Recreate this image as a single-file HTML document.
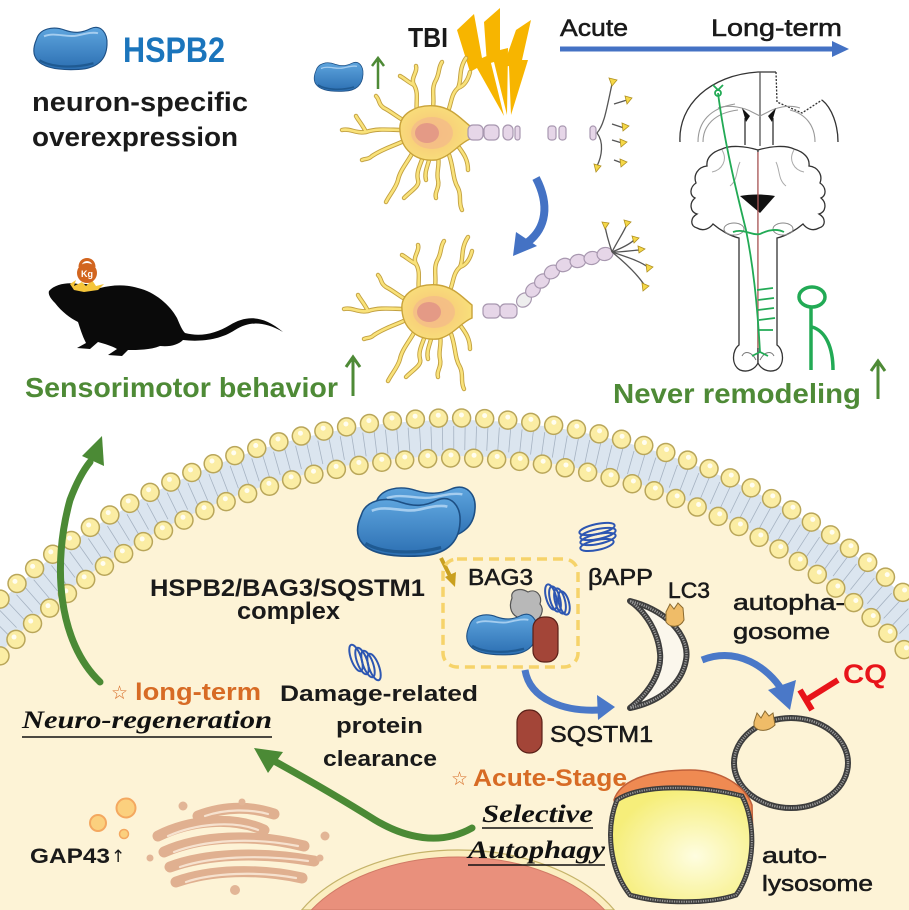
<!DOCTYPE html>
<html><head><meta charset="utf-8"><style>
html,body{margin:0;padding:0;background:#fff;width:909px;height:910px;overflow:hidden;}
svg{display:block;}
.t{font-family:"Liberation Sans",sans-serif;}
.b{font-weight:bold;}
.m{font-weight:normal;stroke-width:0.55;}
.it{font-family:"Liberation Serif",serif;font-weight:bold;font-style:italic;}
.st{font-family:"DejaVu Sans",sans-serif;}
</style></head><body>
<svg width="909" height="910" viewBox="0 0 909 910" xmlns="http://www.w3.org/2000/svg">
<defs>
<linearGradient id="gblue" x1="0" y1="0" x2="0" y2="1"><stop offset="0" stop-color="#5ea5de"/><stop offset="1" stop-color="#2c6fb2"/></linearGradient>
<radialGradient id="gyel" cx="0.6" cy="0.6" r="0.6"><stop offset="0" stop-color="#fefde0"/><stop offset="1" stop-color="#f6ee7a"/></radialGradient>
<radialGradient id="gsoma" cx="0.45" cy="0.5" r="0.6"><stop offset="0" stop-color="#f6c27a"/><stop offset="1" stop-color="#f9e27a"/></radialGradient>
<g id="prot">
<path d="M6,20 C10,6 28,2 44,8 C56,12 66,12 78,6 C92,0 101,12 100,27 C99,47 86,58 62,59 C40,60 16,58 7,47 C0,39 2,29 6,20 Z" fill="url(#gblue)" stroke="#1d4f84" stroke-width="1.5"/>
<path d="M16,16 C30,10 46,18 60,15 C70,13 80,10 88,12" stroke="#a5cdef" stroke-width="2.5" fill="none"/>
<path d="M10,47 C25,56 55,58 82,51" stroke="#1f5a92" stroke-width="3" fill="none"/>
</g>
<g id="dends">
<path d="M418,118 C414,105 420,95 414,85 C410,78 418,72 416,66"/>
<path d="M414,85 C408,82 404,78 400,76"/>
<path d="M432,112 C436,100 430,90 436,80 C440,72 438,68 442,62"/>
<path d="M446,116 C452,105 450,95 458,88 C462,80 458,70 466,58"/>
<path d="M458,88 C464,86 468,80 470,72"/>
<path d="M410,124 C398,118 392,112 384,108 C378,104 380,100 376,96"/>
<path d="M404,130 C390,130 378,128 366,132 C356,134 350,128 342,130"/>
<path d="M366,132 C362,124 358,120 356,116"/>
<path d="M406,140 C394,146 384,148 372,156 C368,160 366,158 362,160"/>
<path d="M414,150 C408,162 400,170 398,180 C396,188 390,194 386,202"/>
<path d="M424,154 C420,166 416,172 418,180 C420,186 412,190 404,198"/>
<path d="M430,156 C428,166 424,172 426,180"/>
<path d="M438,156 C440,166 436,172 438,180 C440,188 434,192 436,198"/>
<path d="M448,152 C454,166 452,178 458,188 C462,196 458,202 462,210"/>
<path d="M458,146 C464,154 468,160 468,170"/>
</g>
<g id="neuron">
<use href="#dends" stroke="#c2a040" stroke-width="4.4" fill="none" stroke-linecap="round"/>
<use href="#dends" stroke="#f9e27a" stroke-width="2.6" fill="none" stroke-linecap="round"/>
<path d="M400,131 C398,114 416,104 436,106 C452,108 460,118 470,126 L470,139 C458,144 452,156 436,160 C414,162 401,148 400,131 Z" fill="url(#gsoma)" stroke="#c9a33a" stroke-width="1.4"/>
<ellipse cx="432" cy="133" rx="21" ry="16" fill="#f3b98a" opacity="0.7"/>
<ellipse cx="427" cy="133" rx="12" ry="10" fill="#e49a86"/>
</g>
</defs>

<rect width="909" height="910" fill="#fff"/>

<!-- cell -->
<path d="M0,650.1 A626,626 0 0 1 909,649 L909,910 L0,910 Z" fill="#fdf3d6"/>
<path d="M0,601.9 A660,660 0 0 1 909,601 L909,651.9 A624,624 0 0 0 0,653 Z" fill="#dbe5ef"/>
<path d="M0,627.1 A642,642 0 0 1 909,626.1" fill="none" stroke="#a6b3c2" stroke-width="24" stroke-dasharray="0.8 10.4"/>
<path d="M0,599.1 A662,662 0 0 1 909,598.2" fill="none" stroke="#b9a65a" stroke-width="19.5" stroke-linecap="round" stroke-dasharray="0 23.1"/>
<path d="M0,599.1 A662,662 0 0 1 909,598.2" fill="none" stroke="#fbeda4" stroke-width="16.5" stroke-linecap="round" stroke-dasharray="0 23.1"/>
<path d="M0,595 A665,665 0 0 1 909,594.1" fill="none" stroke="#fffdf0" stroke-width="5" stroke-linecap="round" stroke-dasharray="0 23.2" stroke-dashoffset="2.9"/>
<path d="M0,655.9 A622,622 0 0 1 909,654.8" fill="none" stroke="#b9a65a" stroke-width="19.5" stroke-linecap="round" stroke-dasharray="0 23"/>
<path d="M0,655.9 A622,622 0 0 1 909,654.8" fill="none" stroke="#fbeda4" stroke-width="16.5" stroke-linecap="round" stroke-dasharray="0 23"/>
<path d="M0,651.5 A625,625 0 0 1 909,650.5" fill="none" stroke="#fffdf0" stroke-width="5" stroke-linecap="round" stroke-dasharray="0 23.11" stroke-dashoffset="2.9"/>

<!-- nucleus -->
<path d="M301.7,910 A178,115 0 0 1 614.3,910 Z" fill="#fbeec0" stroke="#c5b36a" stroke-width="1.2"/>
<path d="M311.3,910 A172,111 0 0 1 604.7,910 Z" fill="#e9907c" stroke="#d07a66"/>

<!-- golgi -->
<g fill="none" stroke-linecap="round">
<g stroke="#e0b090" stroke-width="11">
<path d="M198,816 C225,806 250,806 274,814"/>
<path d="M158,836 C190,820 232,816 264,830"/>
<path d="M164,852 C200,836 252,833 304,846"/>
<path d="M170,867 C205,854 257,851 314,861"/>
<path d="M176,882 C210,870 257,868 302,878"/>
</g>
<g stroke="#f6e2cf" stroke-width="2.2">
<path d="M205,816 C225,809 250,809 268,814"/>
<path d="M168,836 C195,824 232,820 258,830"/>
<path d="M174,852 C205,840 252,837 298,846"/>
<path d="M180,867 C210,857 257,854 308,861"/>
<path d="M186,882 C212,873 257,871 296,878"/>
</g>
</g>
<g fill="#e2b596"><circle cx="183" cy="806" r="4.5"/><circle cx="325" cy="836" r="4.5"/><circle cx="235" cy="890" r="5"/><circle cx="320" cy="858" r="3.5"/><circle cx="150" cy="858" r="3.5"/><circle cx="242" cy="802" r="3.5"/></g>
<circle cx="98" cy="823" r="8" fill="#fbd07e" stroke="#f4a860" stroke-width="2"/>
<circle cx="126" cy="808" r="9.5" fill="#fbd07e" stroke="#f4a860" stroke-width="2"/>
<circle cx="124" cy="834" r="4.5" fill="#fbd07e" stroke="#f4a860" stroke-width="1.5"/>

<!-- green arrows -->
<g stroke="#4b8a35" stroke-width="7" fill="none" stroke-linecap="round">
<path d="M100,682 C58,642 52,565 70,500 C76,484 82,472 90,462"/>
<path d="M472,828 C440,846 405,838 375,820 C340,798 305,778 276,762"/>
</g>
<polygon points="102,436 104,466 82,456" fill="#4b8a35"/>
<polygon points="254,748 283,752 268,773" fill="#4b8a35"/>

<!-- big complex -->
<use href="#prot" transform="translate(370,483) scale(1.05,0.95)"/>
<use href="#prot" transform="translate(355,494) scale(1.05,1.05)"/>
<path d="M441,558 L451,578" stroke="#c9a020" stroke-width="4"/>
<polygon points="455,587 445,577 456,572" fill="#c9a020"/>
<rect x="443" y="559" width="135" height="108" rx="14" fill="none" stroke="#f6d36a" stroke-width="3.5" stroke-dasharray="10 6"/>
<path d="M512,598 C510,590 520,587 528,592 C536,588 543,596 540,604 C545,610 541,620 532,622 L520,618 C512,616 508,608 512,598 Z" fill="#b8b8b8" stroke="#555" stroke-width="1.2"/>
<use href="#prot" transform="translate(465,611) scale(0.72,0.74)"/>
<rect x="533" y="617" width="25" height="45" rx="11" fill="#a34538" stroke="#5a2018" stroke-width="1.2"/>
<g fill="none" stroke="#2d56b2" stroke-width="2">
<ellipse cx="551" cy="597" rx="5" ry="13" transform="rotate(-15 551 597)"/>
<ellipse cx="555" cy="599" rx="5" ry="13" transform="rotate(-15 555 599)"/>
<ellipse cx="560" cy="601" rx="5" ry="13" transform="rotate(-15 560 601)"/>
<ellipse cx="564" cy="603" rx="5" ry="12" transform="rotate(-15 564 603)"/>
<ellipse cx="597" cy="529" rx="18" ry="5" transform="rotate(-12 597 529)"/>
<ellipse cx="598" cy="534" rx="18" ry="5" transform="rotate(-12 598 534)"/>
<ellipse cx="598" cy="539" rx="18" ry="5" transform="rotate(-12 598 539)"/>
<ellipse cx="597" cy="545" rx="17" ry="5" transform="rotate(-12 597 545)"/>
<ellipse cx="356" cy="658" rx="5" ry="14" transform="rotate(-20 356 658)"/>
<ellipse cx="362" cy="661" rx="5" ry="14" transform="rotate(-20 362 661)"/>
<ellipse cx="368" cy="664" rx="5" ry="14" transform="rotate(-20 368 664)"/>
<ellipse cx="374" cy="667" rx="5" ry="14" transform="rotate(-20 374 667)"/>
</g>

<!-- blue arrows lower -->
<path d="M525,670 C530,700 565,712 600,710" stroke="#4a78c8" stroke-width="7" fill="none"/>
<polygon points="615,707 597,695 598,720" fill="#4a78c8"/>
<path d="M702,660 C738,646 768,668 782,690" stroke="#4a78c8" stroke-width="7" fill="none"/>
<polygon points="790,710 768,690 796,680" fill="#4a78c8"/>
<rect x="517" y="710" width="25" height="43" rx="12" fill="#a34538" stroke="#5a2018" stroke-width="1.2"/>

<!-- phagophore -->
<path d="M630,601 C672,612 690,640 686,660 C682,684 660,702 630,708 C650,692 662,672 660,653 C658,632 646,612 630,601 Z" fill="#fbf7ec" stroke="#3d3d3d" stroke-width="6" stroke-linejoin="round"/>
<path d="M630,601 C672,612 690,640 686,660 C682,684 660,702 630,708 C650,692 662,672 660,653 C658,632 646,612 630,601 Z" fill="none" stroke="#9a9a9a" stroke-width="2.5" stroke-dasharray="1.2 1.2"/>
<path d="M666,612 L670,604 L674,609 L678,603 L683,608 L684,620 C680,628 670,628 666,622 Z" fill="#efbc68" stroke="#8a6a30"/>

<!-- autophagosome -->
<ellipse cx="791" cy="763" rx="57" ry="45" fill="none" stroke="#3d3d3d" stroke-width="6"/>
<ellipse cx="791" cy="763" rx="57" ry="45" fill="none" stroke="#9a9a9a" stroke-width="2.5" stroke-dasharray="1.2 1.2"/>
<path d="M754,722 L757,713 L761,718 L765,711 L769,716 L773,713 L775,725 C768,732 758,732 754,726 Z" fill="#efbc68" stroke="#8a6a30"/>
<!-- CQ inhibit -->
<path d="M838,680 L806,700" stroke="#e8141a" stroke-width="6"/>
<path d="M800,690 L812,710" stroke="#e8141a" stroke-width="6"/>

<!-- autolysosome -->
<path d="M614,800 C620,780 650,770 690,770 C720,770 745,785 752,805 L753,842 C740,830 620,830 614,800 Z" fill="#ef8a52" stroke="#c0603a" stroke-width="1.5"/>
<path d="M617,800 C640,784 700,785 742,796 C756,822 756,868 736,895 C710,904 660,904 630,895 C610,870 605,830 617,800 Z" fill="url(#gyel)" stroke="#3d3d3d" stroke-width="5"/>
<path d="M617,800 C640,784 700,785 742,796 C756,822 756,868 736,895 C710,904 660,904 630,895 C610,870 605,830 617,800 Z" fill="none" stroke="#999" stroke-width="2" stroke-dasharray="1.2 1.2"/>

<!-- TOP SECTION -->
<use href="#prot" transform="translate(32,24) scale(0.75,0.77)"/>
<use href="#prot" transform="translate(313,60) scale(0.5,0.53)"/>
<path d="M378,89 L378,59 M372,66 L378,58 L384,66" stroke="#4e8a36" stroke-width="2.5" fill="none"/>

<!-- lightning -->
<g fill="#f7b500">
<polygon points="457,30 474,14 482,58 489,55 504,116 477,68 470,72"/>
<polygon points="484,22 500,8 500,50 508,48 507,115 494,62 487,64"/>
<polygon points="516,30 531,20 522,60 528,60 511,115 509,66 503,67"/>
</g>

<!-- neurons -->
<use href="#neuron"/>
<use href="#neuron" transform="translate(2,179)"/>
<g fill="#e6d6e8" stroke="#a898b0" stroke-width="1.2">
<rect x="468" y="125" width="15" height="15" rx="5"/>
<rect x="484" y="125" width="15" height="15" rx="5"/>
<rect x="503" y="125" width="10" height="15" rx="5"/>
<rect x="515" y="126" width="5" height="14" rx="2.5"/>
<rect x="548" y="126" width="8" height="14" rx="3"/>
<rect x="559" y="126" width="7" height="14" rx="3"/>
<rect x="590" y="126" width="6" height="14" rx="3"/>
<rect x="483" y="304" width="17" height="14" rx="5"/>
<rect x="500" y="304" width="17" height="14" rx="5"/>
<ellipse cx="524" cy="300" rx="8" ry="6.5" transform="rotate(-40 524 300)" fill="#eeeeee"/>
<ellipse cx="533" cy="290" rx="8" ry="6.5" transform="rotate(-42 533 290)"/>
<ellipse cx="542" cy="281" rx="8" ry="6.5" transform="rotate(-40 542 281)"/>
<ellipse cx="552" cy="272" rx="8" ry="6.5" transform="rotate(-32 552 272)"/>
<ellipse cx="564" cy="265" rx="8" ry="6.5" transform="rotate(-20 564 265)"/>
<ellipse cx="578" cy="261" rx="8" ry="6.5" transform="rotate(-12 578 261)"/>
<ellipse cx="592" cy="258" rx="8" ry="6.5" transform="rotate(-10 592 258)"/>
<ellipse cx="605" cy="254" rx="8" ry="6.5" transform="rotate(-10 605 254)"/>
</g>
<g stroke="#555" stroke-width="1.3" fill="none">
<path d="M597,133 C604,125 606,112 612,84"/>
<path d="M597,133 C604,142 602,156 597,166"/>
<path d="M614,104 L627,100"/><path d="M612,124 L624,128"/><path d="M612,140 L622,143"/><path d="M614,160 L622,163"/>
<path d="M612,252 C608,240 606,232 605,226"/>
<path d="M612,252 C618,240 624,232 627,224"/>
<path d="M612,252 C622,248 630,244 634,240"/>
<path d="M612,252 C625,252 634,250 640,250"/>
<path d="M612,252 C630,258 642,262 649,268"/>
<path d="M612,252 C628,265 638,275 645,286"/>
</g>
<g fill="#f5d848" stroke="#b09020" stroke-width="0.8">
<polygon points="609,78 617,80 612,86"/><polygon points="625,96 632,98 627,104"/><polygon points="622,123 629,126 623,131"/><polygon points="620,139 627,142 621,147"/><polygon points="620,159 627,162 621,167"/><polygon points="594,164 601,166 596,172"/>
<polygon points="602,222 609,223 605,229"/><polygon points="624,220 631,222 626,227"/><polygon points="632,236 639,238 634,243"/><polygon points="638,246 645,249 639,253"/><polygon points="646,264 653,267 647,272"/><polygon points="642,283 649,286 643,291"/>
</g>
<path d="M536,178 C550,205 546,228 528,242" stroke="#4472c4" stroke-width="8" fill="none"/>
<polygon points="513,256 516,232 537,246" fill="#4472c4"/>

<!-- timeline -->
<path d="M560,49 L836,49" stroke="#4472c4" stroke-width="5"/>
<polygon points="832,41 849,49 832,57" fill="#4472c4"/>

<!-- brain -->
<g fill="none" stroke="#333" stroke-width="1.3">
<path d="M680,142 C678,105 710,75 758,72 L776,72"/>
<path d="M776,72 L777,102 L802,113 L822,100" stroke-dasharray="2 1.5"/>
<path d="M822,100 C832,108 838,125 838,142"/>
<path d="M760,72 L760,146" stroke="#555"/>
<path d="M745,118 L745,145"/><path d="M773,118 L773,145"/>
</g>
<g fill="none" stroke="#999" stroke-width="1.1">
<path d="M698,142 C698,122 710,108 735,104"/>
<path d="M703,142 C703,126 714,113 738,110"/>
<path d="M718,108 C730,104 745,108 752,112 L760,116 L768,112 C775,108 788,104 800,108"/>
<path d="M815,142 C815,126 806,114 790,110"/>
</g>
<path d="M742,108 L750,116 L746,122 Z M776,108 L768,116 L772,122 Z" fill="#111"/>
<g fill="#fff" stroke="#333" stroke-width="1.3">
<path d="M758,150 C745,146 730,145 722,149 C712,152 706,158 707,166 C698,167 693,175 696,183 C690,187 689,195 695,198 C689,203 690,212 697,214 C690,218 690,226 697,228 C704,232 710,228 713,224 C720,230 730,236 739,238 L739,345 C732,350 731,365 740,370 C748,373 755,369 758,363 Z"/>
<path d="M758,150 C745,146 730,145 722,149 C712,152 706,158 707,166 C698,167 693,175 696,183 C690,187 689,195 695,198 C689,203 690,212 697,214 C690,218 690,226 697,228 C704,232 710,228 713,224 C720,230 730,236 739,238 L739,345 C732,350 731,365 740,370 C748,373 755,369 758,363 Z" transform="translate(1516,0) scale(-1,1)"/>
</g>
<path d="M740,162 C736,170 738,180 730,186 M776,162 C780,170 778,180 786,186 M722,150 C728,160 722,170 712,172 M794,150 C788,160 794,170 804,172" stroke="#aaa" fill="none"/>
<ellipse cx="734" cy="229" rx="10" ry="6" fill="none" stroke="#888"/>
<ellipse cx="783" cy="229" rx="10" ry="6" fill="none" stroke="#888"/>
<path d="M740,196 C750,194 765,194 775,196 L760,213 Z" fill="#111"/>
<path d="M758,152 L758,348" stroke="#e07070" stroke-width="1"/>
<path d="M742,356 C745,350 752,352 756,360 M774,356 C771,350 764,352 760,360" stroke="#777" fill="none"/>
<g stroke="#22aa55" stroke-width="1.8" fill="none">
<path d="M718,93 C724,140 736,190 746,230 C753,265 757,300 760,352"/>
<circle cx="718" cy="93" r="3"/>
<path d="M713,85 L718,90 L723,85"/>
<path d="M733,232 C744,228 752,236 760,234 C768,230 776,228 784,232"/>
<path d="M757,290 L773,288 M758,300 L774,298 M758,310 L774,308 M759,320 L775,318 M759,330 L773,330"/>
<path d="M752,356 L760,352 L768,356"/>
</g>
<g stroke="#22aa55" stroke-width="3.5" fill="none">
<ellipse cx="812" cy="297" rx="13" ry="10"/>
<path d="M811,307 L811,370"/>
<path d="M812,327 C826,331 833,348 833,370"/>
</g>

<!-- mouse -->
<path d="M49,291 C55,284 68,282 78,284 C86,283 92,285 100,288 C112,285 125,284 138,288 C155,292 170,305 177,318 C180,325 182,330 185,333 C200,337 215,334 230,325 C245,316 262,314 283,332 C262,320 248,322 235,330 C220,340 200,342 183,340 C178,345 170,347 160,346 C150,350 138,350 128,350 L122,356 L108,355 L117,349 C112,346 105,344 98,342 L90,349 L77,348 L86,343 C82,335 80,328 78,322 C70,318 62,312 55,303 C50,298 48,294 49,291 Z" fill="#0a0a0a"/>
<polygon points="70,284 76,280 74,286 82,282 86,286 92,280 96,286 104,284 98,290 84,292 74,290" fill="#f5c53a"/>
<path d="M80,267 C80,257 94,257 94,267" stroke="#d2651f" stroke-width="3" fill="none"/>
<circle cx="87" cy="273" r="10" fill="#d2651f"/>
<text x="87" y="277" class="t b" font-size="9" fill="#fff" text-anchor="middle">Kg</text>

<!-- up arrows -->
<path d="M353,396 L353,358 M346,367 L353,357 L360,367" stroke="#4e8a36" stroke-width="3" fill="none"/>
<path d="M878,399 L878,362 M871,371 L878,361 L885,371" stroke="#4e8a36" stroke-width="3" fill="none"/>

<!-- TEXT -->
<g class="t">
<text x="123" y="62" class="b" font-size="35" fill="#1b75bc" textLength="102" lengthAdjust="spacingAndGlyphs">HSPB2</text>
<text x="32" y="111" class="b" font-size="27" fill="#1a1a1a" textLength="216" lengthAdjust="spacingAndGlyphs">neuron-specific</text>
<text x="32" y="146" class="b" font-size="27" fill="#1a1a1a" textLength="206" lengthAdjust="spacingAndGlyphs">overexpression</text>
<text x="408" y="47" class="b" font-size="28" fill="#1a1a1a" textLength="40" lengthAdjust="spacingAndGlyphs">TBI</text>
<text x="560" y="36" class="m" font-size="24" fill="#1a1a1a" stroke="#1a1a1a" textLength="68" lengthAdjust="spacingAndGlyphs">Acute</text>
<text x="711" y="36" class="m" font-size="24" fill="#1a1a1a" stroke="#1a1a1a" textLength="131" lengthAdjust="spacingAndGlyphs">Long-term</text>
<text x="25" y="397" class="b" font-size="28" fill="#4e8a36" textLength="313" lengthAdjust="spacingAndGlyphs">Sensorimotor behavior</text>
<text x="613" y="403" class="b" font-size="28" fill="#4e8a36" textLength="248" lengthAdjust="spacingAndGlyphs">Never remodeling</text>
<text x="150" y="596" class="b" font-size="24" fill="#1a1a1a" textLength="275" lengthAdjust="spacingAndGlyphs">HSPB2/BAG3/SQSTM1</text>
<text x="237" y="619" class="b" font-size="24" fill="#1a1a1a" textLength="103" lengthAdjust="spacingAndGlyphs">complex</text>
<text x="280" y="701" class="b" font-size="22" fill="#1a1a1a" textLength="198" lengthAdjust="spacingAndGlyphs">Damage-related</text>
<text x="336" y="733" class="b" font-size="22" fill="#1a1a1a" textLength="87" lengthAdjust="spacingAndGlyphs">protein</text>
<text x="323" y="766" class="b" font-size="22" fill="#1a1a1a" textLength="114" lengthAdjust="spacingAndGlyphs">clearance</text>
<text x="135" y="700" class="b" font-size="24" fill="#d76b25" textLength="126" lengthAdjust="spacingAndGlyphs">long-term</text>
<text x="30" y="863" class="b" font-size="21" fill="#1a1a1a" textLength="80" lengthAdjust="spacingAndGlyphs">GAP43</text>
<text x="111" y="862" class="st" font-size="17" fill="#1a1a1a">↑</text>
<text x="468" y="585" class="m" font-size="23" fill="#1a1a1a" stroke="#1a1a1a" textLength="65" lengthAdjust="spacingAndGlyphs">BAG3</text>
<text x="588" y="585" class="m" font-size="23" fill="#1a1a1a" stroke="#1a1a1a" textLength="65" lengthAdjust="spacingAndGlyphs">βAPP</text>
<text x="668" y="598" class="m" font-size="22" fill="#1a1a1a" stroke="#1a1a1a" textLength="42" lengthAdjust="spacingAndGlyphs">LC3</text>
<text x="733" y="610" class="m" font-size="22" fill="#1a1a1a" stroke="#1a1a1a" textLength="112" lengthAdjust="spacingAndGlyphs">autopha-</text>
<text x="733" y="639" class="m" font-size="22" fill="#1a1a1a" stroke="#1a1a1a" textLength="97" lengthAdjust="spacingAndGlyphs">gosome</text>
<text x="550" y="742" class="m" font-size="23" fill="#1a1a1a" stroke="#1a1a1a" textLength="103" lengthAdjust="spacingAndGlyphs">SQSTM1</text>
<text x="843" y="683" class="b" font-size="27" fill="#e8141a" textLength="44" lengthAdjust="spacingAndGlyphs">CQ</text>
<text x="762" y="863" class="m" font-size="22" fill="#1a1a1a" stroke="#1a1a1a" textLength="65" lengthAdjust="spacingAndGlyphs">auto-</text>
<text x="762" y="891" class="m" font-size="22" fill="#1a1a1a" stroke="#1a1a1a" textLength="111" lengthAdjust="spacingAndGlyphs">lysosome</text>
<text x="473" y="786" class="b" font-size="24" fill="#d76b25" textLength="154" lengthAdjust="spacingAndGlyphs">Acute-Stage</text>
</g>
<text x="111" y="699" class="st" font-size="19" fill="#d76b25">☆</text>
<text x="451" y="785" class="st" font-size="19" fill="#d76b25">☆</text>
<text x="22" y="728" class="it" font-size="25" fill="#111" textLength="250" lengthAdjust="spacingAndGlyphs">Neuro-regeneration</text>
<path d="M22,737 L272,737" stroke="#111" stroke-width="1.6"/>
<text x="482" y="822" class="it" font-size="25" fill="#111" textLength="111" lengthAdjust="spacingAndGlyphs">Selective</text>
<path d="M482,828 L593,828" stroke="#111" stroke-width="1.6"/>
<text x="468" y="858" class="it" font-size="25" fill="#111" textLength="137" lengthAdjust="spacingAndGlyphs">Autophagy</text>
<path d="M468,865 L605,865" stroke="#111" stroke-width="1.6"/>
</svg>
</body></html>
